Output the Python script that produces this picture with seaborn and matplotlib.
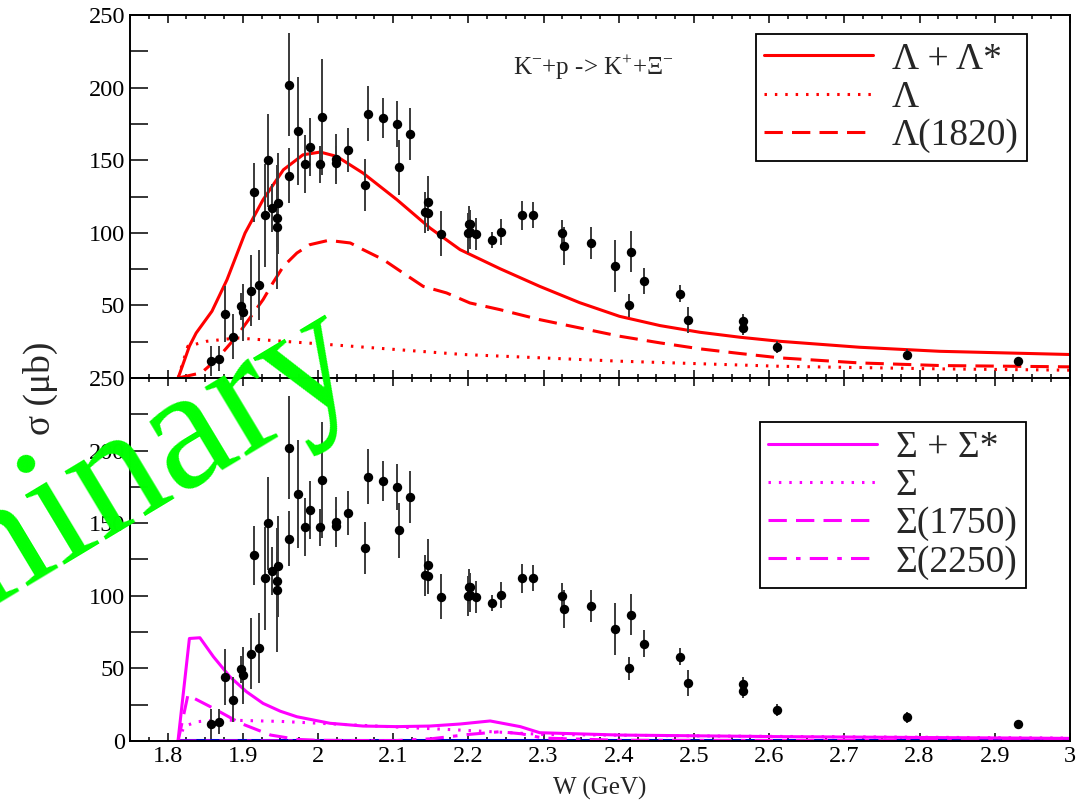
import numpy as np
import pandas as pd
import seaborn as sns
import matplotlib.pyplot as plt
from matplotlib.ticker import MultipleLocator

# measured cross sections (same data in both panels)
W_data = [1.858, 1.868, 1.877, 1.887, 1.897, 1.900, 1.911, 1.921, 1.915, 1.929,
          1.934, 1.939, 1.946, 1.946, 1.947, 1.961, 1.962, 1.974, 1.983, 1.989,
          2.003, 2.006, 2.024, 2.024, 2.040, 2.063, 2.066, 2.086, 2.105, 2.108,
          2.122, 2.142, 2.146, 2.146, 2.164, 2.200, 2.201, 2.202, 2.202, 2.210,
          2.231, 2.244, 2.272, 2.286, 2.325, 2.327, 2.363, 2.395, 2.413, 2.416,
          2.433, 2.481, 2.492, 2.565, 2.565, 2.611, 2.784, 2.931]
sigma_data = [11.6, 13.4, 44.1, 28.3, 49.4, 45.3, 60.2, 64.1, 128.0, 112.2,
              150.0, 117.0, 110.2, 104.0, 120.2, 202.1, 139.3, 170.2, 147.1, 159.2,
              147.1, 179.9, 148.0, 150.8, 157.0, 132.9, 182.1, 179.0, 174.8, 145.0,
              168.0, 114.0, 120.9, 113.4, 99.4, 99.9, 106.3, 100.3, 106.0, 99.2,
              95.3, 100.3, 112.0, 112.0, 100.1, 91.1, 93.2, 76.9, 50.1, 87.0,
              67.1, 58.1, 39.8, 39.1, 34.5, 21.2, 16.2, 12.0]
sigma_err = [10.3, 8.6, 19.5, 15.5, 9.2, 19.5, 24.6, 24.3, 20.3, 35.5,
             32.1, 16.6, 20.0, 43.0, 35.0, 35.5, 19.0, 37.0, 20.0, 20.0,
             13.0, 39.8, 12.0, 17.0, 15.0, 18.0, 19.0, 13.8, 15.7, 19.0,
             17.8, 14.0, 18.3, 12.0, 15.7, 14.0, 12.0, 11.5, 10.0, 10.9,
             5.5, 9.0, 10.0, 9.0, 9.0, 13.0, 11.0, 18.0, 8.0, 14.0,
             9.0, 6.0, 9.0, 5.0, 5.0, 4.0, 4.0, 1.0]

# Lambda exchange curves (top panel)
W_lam_tot = [1.814, 1.829, 1.838, 1.859, 1.879, 1.903, 1.927, 1.954, 1.980, 2.003,
             2.025, 2.060, 2.105, 2.149, 2.189, 2.242, 2.295, 2.348, 2.401, 2.455,
             2.508, 2.561, 2.614, 2.720, 2.827, 3.0]
lam_tot = [0, 21.9, 31.0, 46.0, 67.7, 99.8, 122.8, 143.4, 153.7, 155.6,
           152.6, 141.1, 122.8, 103.3, 88.4, 75.3, 63.1, 51.9, 42.5, 36.1,
           31.5, 28.1, 25.3, 21.2, 18.4, 16.2]
W_lam_bg = [1.814, 1.827, 1.852, 1.892, 2.016, 2.193, 2.401, 2.614, 2.827, 3.0]
lam_bg = [0, 21.9, 25.3, 27.6, 23.0, 16.2, 11.6, 8.1, 6.3, 5.4]
W_lam_1820 = [1.814, 1.845, 1.865, 1.892, 1.927, 1.940, 1.954, 1.972, 1.989, 2.014,
              2.043, 2.060, 2.087, 2.113, 2.140, 2.171, 2.202, 2.242, 2.295, 2.348,
              2.401, 2.455, 2.508, 2.561, 2.614, 2.720, 2.827, 3.0]
lam_1820 = [0, 3.6, 12.7, 28.8, 54.0, 65.5, 76.9, 86.1, 91.8, 94.8,
            93.0, 88.4, 81.5, 72.4, 63.1, 58.6, 51.7, 47.1, 40.2, 34.5,
            28.8, 24.2, 20.1, 16.9, 13.9, 10.4, 8.6, 7.7]

# Sigma exchange curves (bottom panel)
W_sig_tot = [1.814, 1.829, 1.843, 1.861, 1.883, 1.905, 1.927, 1.950, 1.972, 2.016,
             2.060, 2.105, 2.149, 2.189, 2.229, 2.269, 2.295, 2.401, 2.614, 3.0]
sig_tot = [0.7, 70.6, 71.1, 58.0, 44.2, 33.9, 25.9, 20.5, 16.7, 12.2,
           10.3, 9.9, 10.3, 11.7, 13.8, 9.9, 5.7, 4.1, 3.0, 1.8]
W_sig_bg = [1.814, 1.822, 1.839, 1.870, 1.950, 2.050, 2.190, 2.300, 2.500, 3.0]
sig_bg = [0, 10.0, 13.3, 14.5, 13.5, 11.0, 7.5, 4.5, 3.5, 2.0]
W_sig_1750 = [1.814, 1.827, 1.861, 1.897, 1.937, 1.972, 2.000, 2.100]
sig_1750 = [0, 31.6, 22.5, 12.2, 4.1, 1.1, 0.5, 0.2]
W_sig_2250 = [1.814, 2.100, 2.150, 2.200, 2.242, 2.270, 2.300, 2.400, 3.0]
sig_2250 = [0, 0.2, 1.5, 4.5, 6.4, 5.0, 2.0, 0.5, 0.2]
W_other = [1.814, 3.0]
other = [0.7, 0.7]

sns.set_style('ticks')
plt.rcParams['font.family'] = ['Liberation Serif', 'DejaVu Serif']
plt.rcParams['mathtext.fontset'] = 'custom'
plt.rcParams['mathtext.rm'] = 'Liberation Serif'

fig = plt.figure(figsize=(10.77, 8.05), dpi=100)
ax1 = fig.add_axes([0.1207, 0.5304, 0.8727, 0.4510])
ax2 = fig.add_axes([0.1207, 0.0795, 0.8727, 0.4510])

data = pd.DataFrame({'W': W_data, 'sigma': sigma_data, 'err': sigma_err})

red = '#ff0000'
mag = '#ff00ff'
lw = 2.2
dot = (0, (0.8, 2.6))
dash = (0, (6, 3))
dashdot = (0, (6, 3, 1.5, 3))

sns.lineplot(x=W_lam_tot, y=lam_tot, color=red, lw=lw, label='Λ + Λ*', sort=False, ax=ax1)
sns.lineplot(x=W_lam_bg, y=lam_bg, color=red, lw=lw, linestyle=dot, label='Λ', sort=False, ax=ax1)
sns.lineplot(x=W_lam_1820, y=lam_1820, color=red, lw=lw, linestyle=dash, label='Λ(1820)', sort=False, ax=ax1)

sns.lineplot(x=W_other, y=other, color='#0000cc', lw=lw, sort=False, ax=ax2)
sns.lineplot(x=W_sig_tot, y=sig_tot, color=mag, lw=lw, label='Σ + Σ*', sort=False, ax=ax2)
sns.lineplot(x=W_sig_bg, y=sig_bg, color=mag, lw=lw, linestyle=dot, label='Σ', sort=False, ax=ax2)
sns.lineplot(x=W_sig_1750, y=sig_1750, color=mag, lw=lw, linestyle=dash, label='Σ(1750)', sort=False, ax=ax2)
sns.lineplot(x=W_sig_2250, y=sig_2250, color=mag, lw=lw, linestyle=dashdot, label='Σ(2250)', sort=False, ax=ax2)

for ax in (ax1, ax2):
    ax.errorbar(data['W'], data['sigma'], yerr=data['err'], fmt='none',
                ecolor='#3a3a3a', elinewidth=1.4, capsize=0, zorder=4)
    sns.scatterplot(data=data, x='W', y='sigma', color='black', s=46,
                    edgecolor='black', linewidth=0, zorder=5, legend=False, ax=ax)
    ax.set_xlim(1.75, 3.0)
    ax.set_ylim(0, 250)
    ax.set_xlabel('')
    ax.set_ylabel('')
    ax.xaxis.set_major_locator(MultipleLocator(0.1))
    ax.xaxis.set_minor_locator(MultipleLocator(0.025))
    ax.set_yticks(np.arange(0, 251, 25))
    ax.tick_params(axis='both', which='both', direction='in', top=True, right=False,
                   labelsize=17.5, width=1.1, colors='black')
    ax.tick_params(axis='x', which='major', length=6)
    ax.tick_params(axis='x', which='minor', length=3)
    ax.tick_params(axis='y', which='major', length=13)
    for s in ax.spines.values():
        s.set_linewidth(1.4)
        s.set_color('black')

ylab = [str(v) if v % 50 == 0 else '' for v in range(0, 251, 25)]
ax1.set_yticklabels([''] + ylab[1:])
ax2.set_yticklabels(ylab)
ax1.set_xticklabels([])
ax2.set_xticks(np.arange(1.8, 3.01, 0.1))
ax2.set_xticklabels(['1.8', '1.9', '2', '2.1', '2.2', '2.3', '2.4', '2.5', '2.6', '2.7', '2.8', '2.9', '3'])
ax2.set_xlim(1.75, 3.0)
ax2.set_xlabel('W (GeV)', fontsize=18, labelpad=7)

ax1.text(2.259, 208.7, r'K$^{-}$+p -> K$^{+}$+Ξ$^{-}$', fontsize=18, ha='left', va='baseline')

leg_kw = dict(fontsize=27, frameon=True, fancybox=False, framealpha=1, edgecolor='black',
              handlelength=2.9, handletextpad=0.5, labelspacing=0.1, borderpad=0.22,
              borderaxespad=0, loc='upper right')
l1 = ax1.legend(bbox_to_anchor=(0.954, 0.948), **leg_kw)
l2 = ax2.legend(bbox_to_anchor=(0.953, 0.879), **leg_kw)
for lg in (l1, l2):
    lg.get_frame().set_linewidth(1.3)

fig.text(40 / 1077, 1 - 388 / 805, 'σ (μb)', rotation=90, fontsize=27, ha='center', va='center')

fig.text(366 / 1077, 1 - 380 / 805, 'Preliminary', rotation=31, rotation_mode='anchor',
         ha='right', va='baseline', fontsize=125, color='#00ff00', zorder=10)

fig.savefig('out.png', dpi=100)
